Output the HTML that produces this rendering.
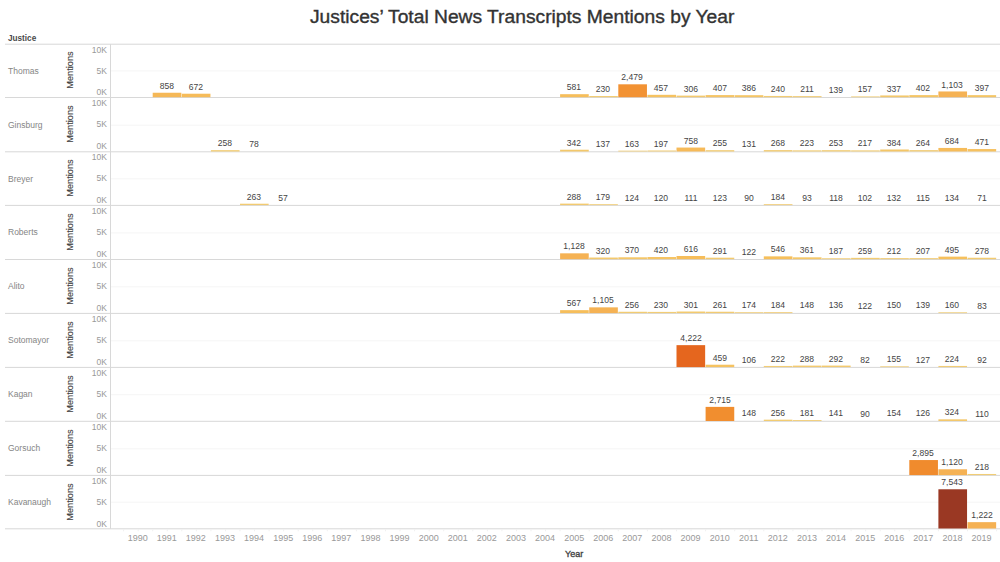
<!DOCTYPE html>
<html><head><meta charset="utf-8">
<style>
html,body{margin:0;padding:0;background:#fff;}
body{width:1000px;height:562px;position:relative;overflow:hidden;font-family:"Liberation Sans",sans-serif;}
svg{position:absolute;left:0;top:0;}
.a{position:absolute;white-space:nowrap;}
.lbl{position:absolute;width:40px;text-align:center;font-size:9.5px;color:#444;line-height:10px;height:10px;transform:scaleX(0.9);}
.ax{position:absolute;width:40px;text-align:right;font-size:9.7px;color:#999;line-height:10px;height:10px;transform:scaleX(0.88);transform-origin:100% 50%;}
.rn{position:absolute;font-size:8.5px;color:#858585;line-height:10px;}
.mt{position:absolute;font-size:9.2px;color:#3c3c3c;line-height:10px;transform:rotate(-90deg);transform-origin:center center;width:60px;text-align:center;-webkit-text-stroke:0.1px #3c3c3c;}
.yr{position:absolute;width:40px;text-align:center;font-size:9px;color:#999;line-height:10px;}
</style></head><body>

<svg width="1000" height="562" viewBox="0 0 1000 562" shape-rendering="geometricPrecision">
<rect x="5" y="43.70" width="995" height="1" fill="#d8d8d8"/>
<rect x="5" y="97.00" width="995" height="1" fill="#d8d8d8"/>
<rect x="5" y="151.30" width="995" height="1" fill="#d8d8d8"/>
<rect x="5" y="204.90" width="995" height="1" fill="#d8d8d8"/>
<rect x="5" y="259.00" width="995" height="1" fill="#d8d8d8"/>
<rect x="5" y="312.90" width="995" height="1" fill="#d8d8d8"/>
<rect x="5" y="366.90" width="995" height="1" fill="#d8d8d8"/>
<rect x="5" y="420.80" width="995" height="1" fill="#d8d8d8"/>
<rect x="5" y="474.90" width="995" height="1" fill="#d8d8d8"/>
<rect x="5" y="528.30" width="995" height="1" fill="#d8d8d8"/>
<rect x="110" y="44.2" width="1" height="484.60" fill="#d8d8d8"/>
<rect x="111" y="70.40" width="889" height="1" fill="#f5f5f5"/>
<rect x="152.70" y="92.74" width="28.65" height="4.46" fill="#f5b857"/>
<rect x="181.80" y="93.71" width="28.65" height="3.49" fill="#f6bc5a"/>
<rect x="560.10" y="94.18" width="28.65" height="3.02" fill="#f6be5b"/>
<rect x="589.20" y="96.00" width="28.65" height="1.20" fill="#f2cd75"/>
<rect x="618.30" y="84.31" width="28.65" height="12.89" fill="#f29233"/>
<rect x="647.40" y="94.82" width="28.65" height="2.38" fill="#f5c260"/>
<rect x="676.50" y="95.61" width="28.65" height="1.59" fill="#f3c96e"/>
<rect x="705.60" y="95.08" width="28.65" height="2.12" fill="#f5c465"/>
<rect x="734.70" y="95.19" width="28.65" height="2.01" fill="#f4c566"/>
<rect x="763.80" y="95.95" width="28.65" height="1.25" fill="#f2cc74"/>
<rect x="792.90" y="96.10" width="28.65" height="1.10" fill="#f1cd77"/>
<rect x="851.10" y="96.38" width="28.65" height="0.82" fill="#f1cf7c"/>
<rect x="880.20" y="95.45" width="28.65" height="1.75" fill="#f3c86b"/>
<rect x="909.30" y="95.11" width="28.65" height="2.09" fill="#f4c565"/>
<rect x="938.40" y="91.46" width="28.65" height="5.74" fill="#f5b254"/>
<rect x="967.50" y="95.14" width="28.65" height="2.06" fill="#f4c565"/>
<rect x="111" y="124.70" width="889" height="1" fill="#f5f5f5"/>
<rect x="210.90" y="150.16" width="28.65" height="1.34" fill="#f2cc72"/>
<rect x="560.10" y="149.72" width="28.65" height="1.78" fill="#f3c86b"/>
<rect x="618.30" y="150.65" width="28.65" height="0.85" fill="#f1cf7c"/>
<rect x="647.40" y="150.48" width="28.65" height="1.02" fill="#f1ce78"/>
<rect x="676.50" y="147.56" width="28.65" height="3.94" fill="#f6ba59"/>
<rect x="705.60" y="150.17" width="28.65" height="1.33" fill="#f2cc73"/>
<rect x="763.80" y="150.11" width="28.65" height="1.39" fill="#f2cb71"/>
<rect x="792.90" y="150.34" width="28.65" height="1.16" fill="#f2cd76"/>
<rect x="822.00" y="150.18" width="28.65" height="1.32" fill="#f2cc73"/>
<rect x="851.10" y="150.37" width="28.65" height="1.13" fill="#f1cd76"/>
<rect x="880.20" y="149.50" width="28.65" height="2.00" fill="#f4c667"/>
<rect x="909.30" y="150.13" width="28.65" height="1.37" fill="#f2cb72"/>
<rect x="938.40" y="147.94" width="28.65" height="3.56" fill="#f6bc5a"/>
<rect x="967.50" y="149.05" width="28.65" height="2.45" fill="#f6c15f"/>
<rect x="111" y="178.30" width="889" height="1" fill="#f5f5f5"/>
<rect x="240.00" y="203.73" width="28.65" height="1.37" fill="#f2cb72"/>
<rect x="560.10" y="203.60" width="28.65" height="1.50" fill="#f3ca70"/>
<rect x="589.20" y="204.17" width="28.65" height="0.93" fill="#f1ce7a"/>
<rect x="763.80" y="204.14" width="28.65" height="0.96" fill="#f1ce7a"/>
<rect x="111" y="232.40" width="889" height="1" fill="#f5f5f5"/>
<rect x="560.10" y="253.33" width="28.65" height="5.87" fill="#f5b254"/>
<rect x="589.20" y="257.54" width="28.65" height="1.66" fill="#f3c96d"/>
<rect x="618.30" y="257.28" width="28.65" height="1.92" fill="#f4c668"/>
<rect x="647.40" y="257.02" width="28.65" height="2.18" fill="#f5c463"/>
<rect x="676.50" y="256.00" width="28.65" height="3.20" fill="#f6bd5a"/>
<rect x="705.60" y="257.69" width="28.65" height="1.51" fill="#f3ca6f"/>
<rect x="763.80" y="256.36" width="28.65" height="2.84" fill="#f6bf5b"/>
<rect x="792.90" y="257.32" width="28.65" height="1.88" fill="#f4c769"/>
<rect x="822.00" y="258.23" width="28.65" height="0.97" fill="#f1ce79"/>
<rect x="851.10" y="257.85" width="28.65" height="1.35" fill="#f2cc72"/>
<rect x="880.20" y="258.10" width="28.65" height="1.10" fill="#f1cd77"/>
<rect x="909.30" y="258.12" width="28.65" height="1.08" fill="#f1cd77"/>
<rect x="938.40" y="256.63" width="28.65" height="2.57" fill="#f6c05c"/>
<rect x="967.50" y="257.75" width="28.65" height="1.45" fill="#f2cb70"/>
<rect x="111" y="286.30" width="889" height="1" fill="#f5f5f5"/>
<rect x="560.10" y="310.15" width="28.65" height="2.95" fill="#f6be5b"/>
<rect x="589.20" y="307.35" width="28.65" height="5.75" fill="#f5b254"/>
<rect x="618.30" y="311.77" width="28.65" height="1.33" fill="#f2cc72"/>
<rect x="647.40" y="311.90" width="28.65" height="1.20" fill="#f2cd75"/>
<rect x="676.50" y="311.53" width="28.65" height="1.57" fill="#f3ca6e"/>
<rect x="705.60" y="311.74" width="28.65" height="1.36" fill="#f2cb72"/>
<rect x="734.70" y="312.20" width="28.65" height="0.90" fill="#f1ce7b"/>
<rect x="763.80" y="312.14" width="28.65" height="0.96" fill="#f1ce7a"/>
<rect x="938.40" y="312.27" width="28.65" height="0.83" fill="#f1cf7c"/>
<rect x="111" y="340.30" width="889" height="1" fill="#f5f5f5"/>
<rect x="676.50" y="345.15" width="28.65" height="21.95" fill="#e5661e"/>
<rect x="705.60" y="364.71" width="28.65" height="2.39" fill="#f5c260"/>
<rect x="763.80" y="365.95" width="28.65" height="1.15" fill="#f2cd76"/>
<rect x="792.90" y="365.60" width="28.65" height="1.50" fill="#f3ca70"/>
<rect x="822.00" y="365.58" width="28.65" height="1.52" fill="#f3ca6f"/>
<rect x="880.20" y="366.29" width="28.65" height="0.81" fill="#f0cf7c"/>
<rect x="938.40" y="365.94" width="28.65" height="1.16" fill="#f2cd76"/>
<rect x="111" y="394.20" width="889" height="1" fill="#f5f5f5"/>
<rect x="705.60" y="406.88" width="28.65" height="14.12" fill="#f18e2f"/>
<rect x="763.80" y="419.67" width="28.65" height="1.33" fill="#f2cc72"/>
<rect x="792.90" y="420.06" width="28.65" height="0.94" fill="#f1ce7a"/>
<rect x="938.40" y="419.32" width="28.65" height="1.68" fill="#f3c86c"/>
<rect x="111" y="448.30" width="889" height="1" fill="#f5f5f5"/>
<rect x="909.30" y="460.05" width="28.65" height="15.05" fill="#f08b2d"/>
<rect x="938.40" y="469.28" width="28.65" height="5.82" fill="#f5b254"/>
<rect x="967.50" y="473.97" width="28.65" height="1.13" fill="#f1cd76"/>
<rect x="111" y="501.70" width="889" height="1" fill="#f5f5f5"/>
<rect x="938.40" y="489.28" width="28.65" height="39.22" fill="#9a3823"/>
<rect x="967.50" y="522.15" width="28.65" height="6.35" fill="#f5b153"/>
<rect x="123.10" y="529.3" width="1" height="2" fill="#f0f0f0"/>
<rect x="137.65" y="529.3" width="1" height="2" fill="#f0f0f0"/>
<rect x="152.20" y="529.3" width="1" height="2" fill="#f0f0f0"/>
<rect x="166.75" y="529.3" width="1" height="2" fill="#f0f0f0"/>
<rect x="181.30" y="529.3" width="1" height="2" fill="#f0f0f0"/>
<rect x="195.85" y="529.3" width="1" height="2" fill="#f0f0f0"/>
<rect x="210.40" y="529.3" width="1" height="2" fill="#f0f0f0"/>
<rect x="224.95" y="529.3" width="1" height="2" fill="#f0f0f0"/>
<rect x="239.50" y="529.3" width="1" height="2" fill="#f0f0f0"/>
<rect x="254.05" y="529.3" width="1" height="2" fill="#f0f0f0"/>
<rect x="268.60" y="529.3" width="1" height="2" fill="#f0f0f0"/>
<rect x="283.15" y="529.3" width="1" height="2" fill="#f0f0f0"/>
<rect x="297.70" y="529.3" width="1" height="2" fill="#f0f0f0"/>
<rect x="312.25" y="529.3" width="1" height="2" fill="#f0f0f0"/>
<rect x="326.80" y="529.3" width="1" height="2" fill="#f0f0f0"/>
<rect x="341.35" y="529.3" width="1" height="2" fill="#f0f0f0"/>
<rect x="355.90" y="529.3" width="1" height="2" fill="#f0f0f0"/>
<rect x="370.45" y="529.3" width="1" height="2" fill="#f0f0f0"/>
<rect x="385.00" y="529.3" width="1" height="2" fill="#f0f0f0"/>
<rect x="399.55" y="529.3" width="1" height="2" fill="#f0f0f0"/>
<rect x="414.10" y="529.3" width="1" height="2" fill="#f0f0f0"/>
<rect x="428.65" y="529.3" width="1" height="2" fill="#f0f0f0"/>
<rect x="443.20" y="529.3" width="1" height="2" fill="#f0f0f0"/>
<rect x="457.75" y="529.3" width="1" height="2" fill="#f0f0f0"/>
<rect x="472.30" y="529.3" width="1" height="2" fill="#f0f0f0"/>
<rect x="486.85" y="529.3" width="1" height="2" fill="#f0f0f0"/>
<rect x="501.40" y="529.3" width="1" height="2" fill="#f0f0f0"/>
<rect x="515.95" y="529.3" width="1" height="2" fill="#f0f0f0"/>
<rect x="530.50" y="529.3" width="1" height="2" fill="#f0f0f0"/>
<rect x="545.05" y="529.3" width="1" height="2" fill="#f0f0f0"/>
<rect x="559.60" y="529.3" width="1" height="2" fill="#f0f0f0"/>
<rect x="574.15" y="529.3" width="1" height="2" fill="#f0f0f0"/>
<rect x="588.70" y="529.3" width="1" height="2" fill="#f0f0f0"/>
<rect x="603.25" y="529.3" width="1" height="2" fill="#f0f0f0"/>
<rect x="617.80" y="529.3" width="1" height="2" fill="#f0f0f0"/>
<rect x="632.35" y="529.3" width="1" height="2" fill="#f0f0f0"/>
<rect x="646.90" y="529.3" width="1" height="2" fill="#f0f0f0"/>
<rect x="661.45" y="529.3" width="1" height="2" fill="#f0f0f0"/>
<rect x="676.00" y="529.3" width="1" height="2" fill="#f0f0f0"/>
<rect x="690.55" y="529.3" width="1" height="2" fill="#f0f0f0"/>
<rect x="705.10" y="529.3" width="1" height="2" fill="#f0f0f0"/>
<rect x="719.65" y="529.3" width="1" height="2" fill="#f0f0f0"/>
<rect x="734.20" y="529.3" width="1" height="2" fill="#f0f0f0"/>
<rect x="748.75" y="529.3" width="1" height="2" fill="#f0f0f0"/>
<rect x="763.30" y="529.3" width="1" height="2" fill="#f0f0f0"/>
<rect x="777.85" y="529.3" width="1" height="2" fill="#f0f0f0"/>
<rect x="792.40" y="529.3" width="1" height="2" fill="#f0f0f0"/>
<rect x="806.95" y="529.3" width="1" height="2" fill="#f0f0f0"/>
<rect x="821.50" y="529.3" width="1" height="2" fill="#f0f0f0"/>
<rect x="836.05" y="529.3" width="1" height="2" fill="#f0f0f0"/>
<rect x="850.60" y="529.3" width="1" height="2" fill="#f0f0f0"/>
<rect x="865.15" y="529.3" width="1" height="2" fill="#f0f0f0"/>
<rect x="879.70" y="529.3" width="1" height="2" fill="#f0f0f0"/>
<rect x="894.25" y="529.3" width="1" height="2" fill="#f0f0f0"/>
<rect x="908.80" y="529.3" width="1" height="2" fill="#f0f0f0"/>
<rect x="923.35" y="529.3" width="1" height="2" fill="#f0f0f0"/>
<rect x="937.90" y="529.3" width="1" height="2" fill="#f0f0f0"/>
<rect x="952.45" y="529.3" width="1" height="2" fill="#f0f0f0"/>
<rect x="967.00" y="529.3" width="1" height="2" fill="#f0f0f0"/>
<rect x="981.55" y="529.3" width="1" height="2" fill="#f0f0f0"/>
<rect x="996.10" y="529.3" width="1" height="2" fill="#f0f0f0"/>
</svg>
<div class="a" style="left:310px;top:6px;font-size:17.5px;line-height:22px;color:#333;transform:scaleX(1.099);transform-origin:0 0;-webkit-text-stroke:0.35px #333;">Justices’ Total News Transcripts Mentions by Year</div>
<div class="a" style="left:8px;top:34.3px;font-size:8.2px;line-height:10px;font-weight:bold;color:#4a4a4a;">Justice</div>
<div class="rn" style="left:8px;top:66px;">Thomas</div>
<div class="mt" style="left:39.8px;top:65.1px;">Mentions</div>
<div class="ax" style="left:67px;top:45.4px;">10K</div>
<div class="ax" style="left:67px;top:66.2px;">5K</div>
<div class="ax" style="left:67px;top:86.5px;">0K</div>
<div class="lbl" style="left:146.75px;top:80.84px;">858</div>
<div class="lbl" style="left:175.85px;top:81.81px;">672</div>
<div class="lbl" style="left:554.15px;top:82.28px;">581</div>
<div class="lbl" style="left:583.25px;top:84.10px;">230</div>
<div class="lbl" style="left:612.35px;top:72.41px;">2,479</div>
<div class="lbl" style="left:641.45px;top:82.92px;">457</div>
<div class="lbl" style="left:670.55px;top:83.71px;">306</div>
<div class="lbl" style="left:699.65px;top:83.18px;">407</div>
<div class="lbl" style="left:728.75px;top:83.29px;">386</div>
<div class="lbl" style="left:757.85px;top:84.05px;">240</div>
<div class="lbl" style="left:786.95px;top:84.20px;">211</div>
<div class="lbl" style="left:816.05px;top:84.58px;">139</div>
<div class="lbl" style="left:845.15px;top:84.48px;">157</div>
<div class="lbl" style="left:874.25px;top:83.55px;">337</div>
<div class="lbl" style="left:903.35px;top:83.21px;">402</div>
<div class="lbl" style="left:932.45px;top:79.56px;">1,103</div>
<div class="lbl" style="left:961.55px;top:83.24px;">397</div>
<div class="rn" style="left:8px;top:120px;">Ginsburg</div>
<div class="mt" style="left:39.8px;top:118.6px;">Mentions</div>
<div class="ax" style="left:67px;top:98.4px;">10K</div>
<div class="ax" style="left:67px;top:119.2px;">5K</div>
<div class="ax" style="left:67px;top:140.5px;">0K</div>
<div class="lbl" style="left:204.95px;top:138.26px;">258</div>
<div class="lbl" style="left:234.05px;top:139.19px;">78</div>
<div class="lbl" style="left:554.15px;top:137.82px;">342</div>
<div class="lbl" style="left:583.25px;top:138.89px;">137</div>
<div class="lbl" style="left:612.35px;top:138.75px;">163</div>
<div class="lbl" style="left:641.45px;top:138.58px;">197</div>
<div class="lbl" style="left:670.55px;top:135.66px;">758</div>
<div class="lbl" style="left:699.65px;top:138.27px;">255</div>
<div class="lbl" style="left:728.75px;top:138.92px;">131</div>
<div class="lbl" style="left:757.85px;top:138.21px;">268</div>
<div class="lbl" style="left:786.95px;top:138.44px;">223</div>
<div class="lbl" style="left:816.05px;top:138.28px;">253</div>
<div class="lbl" style="left:845.15px;top:138.47px;">217</div>
<div class="lbl" style="left:874.25px;top:137.60px;">384</div>
<div class="lbl" style="left:903.35px;top:138.23px;">264</div>
<div class="lbl" style="left:932.45px;top:136.04px;">684</div>
<div class="lbl" style="left:961.55px;top:137.15px;">471</div>
<div class="rn" style="left:8px;top:174px;">Breyer</div>
<div class="mt" style="left:39.8px;top:172.6px;">Mentions</div>
<div class="ax" style="left:67px;top:152.4px;">10K</div>
<div class="ax" style="left:67px;top:173.2px;">5K</div>
<div class="ax" style="left:67px;top:194.5px;">0K</div>
<div class="lbl" style="left:234.05px;top:191.83px;">263</div>
<div class="lbl" style="left:263.15px;top:192.90px;">57</div>
<div class="lbl" style="left:554.15px;top:191.70px;">288</div>
<div class="lbl" style="left:583.25px;top:192.27px;">179</div>
<div class="lbl" style="left:612.35px;top:192.56px;">124</div>
<div class="lbl" style="left:641.45px;top:192.58px;">120</div>
<div class="lbl" style="left:670.55px;top:192.62px;">111</div>
<div class="lbl" style="left:699.65px;top:192.56px;">123</div>
<div class="lbl" style="left:728.75px;top:192.73px;">90</div>
<div class="lbl" style="left:757.85px;top:192.24px;">184</div>
<div class="lbl" style="left:786.95px;top:192.72px;">93</div>
<div class="lbl" style="left:816.05px;top:192.59px;">118</div>
<div class="lbl" style="left:845.15px;top:192.67px;">102</div>
<div class="lbl" style="left:874.25px;top:192.51px;">132</div>
<div class="lbl" style="left:903.35px;top:192.60px;">115</div>
<div class="lbl" style="left:932.45px;top:192.50px;">134</div>
<div class="lbl" style="left:961.55px;top:192.83px;">71</div>
<div class="rn" style="left:8px;top:227px;">Roberts</div>
<div class="mt" style="left:39.8px;top:226.6px;">Mentions</div>
<div class="ax" style="left:67px;top:206.4px;">10K</div>
<div class="ax" style="left:67px;top:227.2px;">5K</div>
<div class="ax" style="left:67px;top:248.5px;">0K</div>
<div class="lbl" style="left:554.15px;top:241.43px;">1,128</div>
<div class="lbl" style="left:583.25px;top:245.64px;">320</div>
<div class="lbl" style="left:612.35px;top:245.38px;">370</div>
<div class="lbl" style="left:641.45px;top:245.12px;">420</div>
<div class="lbl" style="left:670.55px;top:244.10px;">616</div>
<div class="lbl" style="left:699.65px;top:245.79px;">291</div>
<div class="lbl" style="left:728.75px;top:246.67px;">122</div>
<div class="lbl" style="left:757.85px;top:244.46px;">546</div>
<div class="lbl" style="left:786.95px;top:245.42px;">361</div>
<div class="lbl" style="left:816.05px;top:246.33px;">187</div>
<div class="lbl" style="left:845.15px;top:245.95px;">259</div>
<div class="lbl" style="left:874.25px;top:246.20px;">212</div>
<div class="lbl" style="left:903.35px;top:246.22px;">207</div>
<div class="lbl" style="left:932.45px;top:244.73px;">495</div>
<div class="lbl" style="left:961.55px;top:245.85px;">278</div>
<div class="rn" style="left:8px;top:281px;">Alito</div>
<div class="mt" style="left:39.8px;top:280.6px;">Mentions</div>
<div class="ax" style="left:67px;top:260.4px;">10K</div>
<div class="ax" style="left:67px;top:281.2px;">5K</div>
<div class="ax" style="left:67px;top:302.5px;">0K</div>
<div class="lbl" style="left:554.15px;top:298.25px;">567</div>
<div class="lbl" style="left:583.25px;top:295.45px;">1,105</div>
<div class="lbl" style="left:612.35px;top:299.87px;">256</div>
<div class="lbl" style="left:641.45px;top:300.00px;">230</div>
<div class="lbl" style="left:670.55px;top:299.63px;">301</div>
<div class="lbl" style="left:699.65px;top:299.84px;">261</div>
<div class="lbl" style="left:728.75px;top:300.30px;">174</div>
<div class="lbl" style="left:757.85px;top:300.24px;">184</div>
<div class="lbl" style="left:786.95px;top:300.43px;">148</div>
<div class="lbl" style="left:816.05px;top:300.49px;">136</div>
<div class="lbl" style="left:845.15px;top:300.57px;">122</div>
<div class="lbl" style="left:874.25px;top:300.42px;">150</div>
<div class="lbl" style="left:903.35px;top:300.48px;">139</div>
<div class="lbl" style="left:932.45px;top:300.37px;">160</div>
<div class="lbl" style="left:961.55px;top:300.77px;">83</div>
<div class="rn" style="left:8px;top:335px;">Sotomayor</div>
<div class="mt" style="left:39.8px;top:334.6px;">Mentions</div>
<div class="ax" style="left:67px;top:314.4px;">10K</div>
<div class="ax" style="left:67px;top:335.2px;">5K</div>
<div class="ax" style="left:67px;top:356.5px;">0K</div>
<div class="lbl" style="left:670.55px;top:333.25px;">4,222</div>
<div class="lbl" style="left:699.65px;top:352.81px;">459</div>
<div class="lbl" style="left:728.75px;top:354.65px;">106</div>
<div class="lbl" style="left:757.85px;top:354.05px;">222</div>
<div class="lbl" style="left:786.95px;top:353.70px;">288</div>
<div class="lbl" style="left:816.05px;top:353.68px;">292</div>
<div class="lbl" style="left:845.15px;top:354.77px;">82</div>
<div class="lbl" style="left:874.25px;top:354.39px;">155</div>
<div class="lbl" style="left:903.35px;top:354.54px;">127</div>
<div class="lbl" style="left:932.45px;top:354.04px;">224</div>
<div class="lbl" style="left:961.55px;top:354.72px;">92</div>
<div class="rn" style="left:8px;top:389px;">Kagan</div>
<div class="mt" style="left:39.8px;top:388.6px;">Mentions</div>
<div class="ax" style="left:67px;top:368.4px;">10K</div>
<div class="ax" style="left:67px;top:389.2px;">5K</div>
<div class="ax" style="left:67px;top:410.5px;">0K</div>
<div class="lbl" style="left:699.65px;top:394.98px;">2,715</div>
<div class="lbl" style="left:728.75px;top:408.33px;">148</div>
<div class="lbl" style="left:757.85px;top:407.77px;">256</div>
<div class="lbl" style="left:786.95px;top:408.16px;">181</div>
<div class="lbl" style="left:816.05px;top:408.37px;">141</div>
<div class="lbl" style="left:845.15px;top:408.63px;">90</div>
<div class="lbl" style="left:874.25px;top:408.30px;">154</div>
<div class="lbl" style="left:903.35px;top:408.44px;">126</div>
<div class="lbl" style="left:932.45px;top:407.42px;">324</div>
<div class="lbl" style="left:961.55px;top:408.53px;">110</div>
<div class="rn" style="left:8px;top:443px;">Gorsuch</div>
<div class="mt" style="left:39.8px;top:442.6px;">Mentions</div>
<div class="ax" style="left:67px;top:422.4px;">10K</div>
<div class="ax" style="left:67px;top:443.2px;">5K</div>
<div class="ax" style="left:67px;top:464.5px;">0K</div>
<div class="lbl" style="left:903.35px;top:448.15px;">2,895</div>
<div class="lbl" style="left:932.45px;top:457.38px;">1,120</div>
<div class="lbl" style="left:961.55px;top:462.07px;">218</div>
<div class="rn" style="left:8px;top:497px;">Kavanaugh</div>
<div class="mt" style="left:39.8px;top:496.6px;">Mentions</div>
<div class="ax" style="left:67px;top:476.4px;">10K</div>
<div class="ax" style="left:67px;top:497.2px;">5K</div>
<div class="ax" style="left:67px;top:518.5px;">0K</div>
<div class="lbl" style="left:932.45px;top:477.38px;">7,543</div>
<div class="lbl" style="left:961.55px;top:510.25px;">1,222</div>
<div class="yr" style="left:117.65px;top:533px;">1990</div>
<div class="yr" style="left:146.75px;top:533px;">1991</div>
<div class="yr" style="left:175.85px;top:533px;">1992</div>
<div class="yr" style="left:204.95px;top:533px;">1993</div>
<div class="yr" style="left:234.05px;top:533px;">1994</div>
<div class="yr" style="left:263.15px;top:533px;">1995</div>
<div class="yr" style="left:292.25px;top:533px;">1996</div>
<div class="yr" style="left:321.35px;top:533px;">1997</div>
<div class="yr" style="left:350.45px;top:533px;">1998</div>
<div class="yr" style="left:379.55px;top:533px;">1999</div>
<div class="yr" style="left:408.65px;top:533px;">2000</div>
<div class="yr" style="left:437.75px;top:533px;">2001</div>
<div class="yr" style="left:466.85px;top:533px;">2002</div>
<div class="yr" style="left:495.95px;top:533px;">2003</div>
<div class="yr" style="left:525.05px;top:533px;">2004</div>
<div class="yr" style="left:554.15px;top:533px;">2005</div>
<div class="yr" style="left:583.25px;top:533px;">2006</div>
<div class="yr" style="left:612.35px;top:533px;">2007</div>
<div class="yr" style="left:641.45px;top:533px;">2008</div>
<div class="yr" style="left:670.55px;top:533px;">2009</div>
<div class="yr" style="left:699.65px;top:533px;">2010</div>
<div class="yr" style="left:728.75px;top:533px;">2011</div>
<div class="yr" style="left:757.85px;top:533px;">2012</div>
<div class="yr" style="left:786.95px;top:533px;">2013</div>
<div class="yr" style="left:816.05px;top:533px;">2014</div>
<div class="yr" style="left:845.15px;top:533px;">2015</div>
<div class="yr" style="left:874.25px;top:533px;">2016</div>
<div class="yr" style="left:903.35px;top:533px;">2017</div>
<div class="yr" style="left:932.45px;top:533px;">2018</div>
<div class="yr" style="left:961.55px;top:533px;">2019</div>
<div class="a" style="left:565px;top:548.5px;font-size:9px;line-height:10px;font-weight:normal;-webkit-text-stroke:0.35px #444;color:#444;">Year</div>
</body></html>
